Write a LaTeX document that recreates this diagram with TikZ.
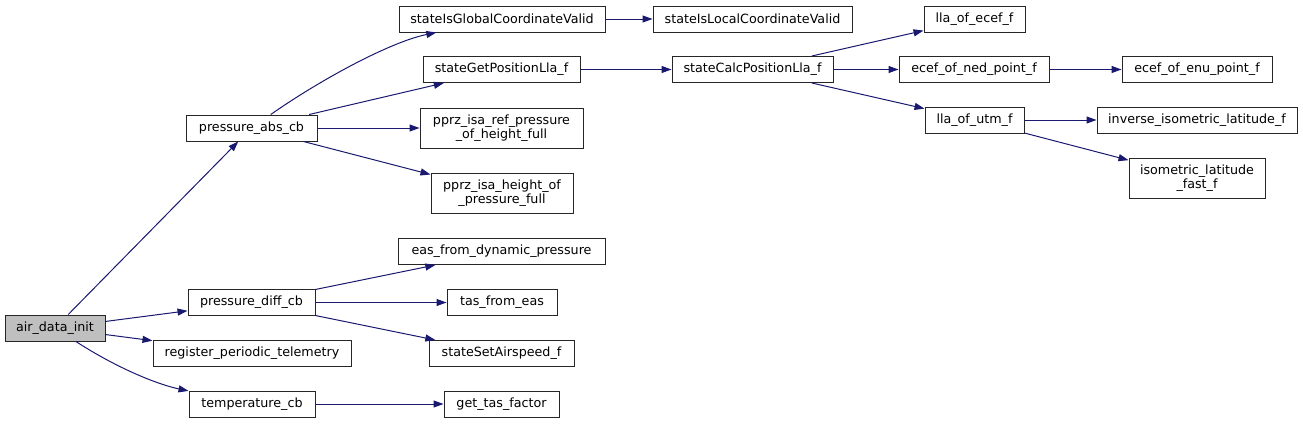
\documentclass[tikz,border=0pt]{standalone}
\usepackage{fontspec}
\setmainfont{DejaVu Sans}
\usepackage{tikz}
\usetikzlibrary{arrows.meta}

\definecolor{edgeblue}{RGB}{25,25,112}
\definecolor{rootgray}{RGB}{191,191,191}

\begin{document}
\begin{tikzpicture}[x=1pt, y=-1pt,
    every node/.style={rectangle, draw=black!85, line width=1pt, inner sep=0pt,
      minimum height=26pt, font=\fontsize{12.7}{13.6}\selectfont, align=center},
    tall/.style={minimum height=40pt},
    root/.style={fill=rootgray},
    arrow/.style={-{Triangle[length=10pt,width=7pt]}, draw=edgeblue, line width=1pt}
]
\useasboundingbox (0,0) rectangle (1303,423);
%% ============================================================
%% LEFT: the root and its four callees
%% ============================================================
\node[root, minimum width=100pt] (airdata) at (55,328)    {air\_data\_init};
\node[minimum width=131pt] (pabs)    at (251.5,128)  {pressure\_abs\_cb};
\node[minimum width=127pt] (pdiff)   at (251.5,302.5) {pressure\_diff\_cb};
\node[minimum width=198pt] (regtel)  at (252,353.5)  {register\_periodic\_telemetry};
\node[minimum width=126pt] (tempcb)  at (252,404)    {temperature\_cb};
\draw[arrow] (airdata) -- (pabs);
\draw[arrow] (airdata) -- (pdiff);
\draw[arrow] (airdata) -- (regtel);
\draw[arrow] (airdata) .. controls (120,370) and (160,385) .. (tempcb);
%% ============================================================
%% MIDDLE: second level
%% ============================================================
\node[minimum width=206pt] (sgcv)    at (502,19)     {stateIsGlobalCoordinateValid};
\node[minimum width=157pt] (sgpl)    at (501.5,69.5) {stateGetPositionLla\_f};
\node[tall, minimum width=163pt] (isaref) at (501.5,128) {pprz\_isa\_ref\_pressure\\\_of\_height\_full};
\node[tall, minimum width=142pt] (isah)   at (502,193)   {pprz\_isa\_height\_of\\\_pressure\_full};
\node[minimum width=207pt] (easdp)   at (501.5,251.5) {eas\_from\_dynamic\_pressure};
\node[minimum width=110pt] (tasfe)   at (502,302.5)  {tas\_from\_eas};
\node[minimum width=145pt] (setas)   at (501.5,353.5) {stateSetAirspeed\_f};
\node[minimum width=115pt] (gettas)  at (501.5,404)  {get\_tas\_factor};
\draw[arrow] (pabs) .. controls (320,80) and (390,42) .. (sgcv);
\draw[arrow] (pabs) -- (sgpl);
\draw[arrow] (pabs) -- (isaref);
\draw[arrow] (pabs) -- (isah);
\draw[arrow] (pdiff) -- (easdp);
\draw[arrow] (pdiff) -- (tasfe);
\draw[arrow] (pdiff) -- (setas);
\draw[arrow] (tempcb) -- (gettas);
%% ============================================================
%% RIGHT: position conversions
%% ============================================================
\node[minimum width=199pt] (slcv)    at (752.5,19)   {stateIsLocalCoordinateValid};
\node[minimum width=161pt] (scpl)    at (752.5,69.5) {stateCalcPositionLla\_f};
\node[minimum width=101pt] (llaecef) at (974.5,19)   {lla\_of\_ecef\_f};
\node[minimum width=150pt] (ecefned) at (974,69.5)   {ecef\_of\_ned\_point\_f};
\node[minimum width=99pt]  (llautm)  at (974.5,120)  {lla\_of\_utm\_f};
\node[minimum width=150pt] (ecefenu) at (1197,69.5)  {ecef\_of\_enu\_point\_f};
\node[minimum width=200pt] (invlat)  at (1197,120)   {inverse\_isometric\_latitude\_f};
\node[tall, minimum width=136pt] (isolat) at (1197,178) {isometric\_latitude\\\_fast\_f};
\draw[arrow] (sgcv) -- (slcv);
\draw[arrow] (sgpl) -- (scpl);
\draw[arrow] (scpl) -- (llaecef);
\draw[arrow] (scpl) -- (ecefned);
\draw[arrow] (scpl) -- (llautm);
\draw[arrow] (ecefned) -- (ecefenu);
\draw[arrow] (llautm) -- (invlat);
\draw[arrow] (llautm) -- (isolat);
\end{tikzpicture}
\end{document}
